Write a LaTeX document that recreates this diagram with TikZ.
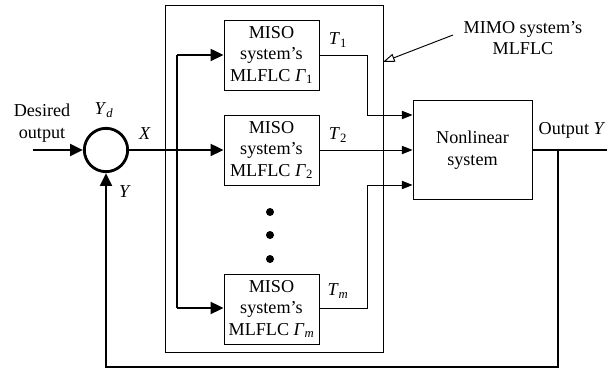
\documentclass[tikz,border=0pt]{standalone}
\usepackage{fontspec}
\setmainfont{Liberation Serif}
\usetikzlibrary{arrows.meta}
\tikzset{
    thinline/.style={line width=0.8pt},
    thickline/.style={line width=2.4pt},
    thinarrow/.style={thinline, -{Triangle[length=9pt, width=7pt]}},
    thickarrow/.style={thickline, -{Triangle[length=11pt, width=10pt]}},
    misobox/.style={draw, thinline, minimum width=2.85cm, minimum height=2.1cm,
        align=center, inner sep=0pt},
    lbl/.style={inner sep=0pt, align=center}
}
\begin{document}
\begin{tikzpicture}[x=0.03cm, y=-0.03cm, font=\fontsize{15.5}{18.5}\selectfont]
            \useasboundingbox (0, 0) rectangle (615, 376);
            \draw[thinline]
                (165, 5) rectangle (383, 352);
            \node[draw, circle, thickline, minimum size=1.3cm, inner sep=0pt] (sum) at (106, 150) {};
            \node[misobox] (miso1) at (271.5, 55) {MISO\\system's\\MLFLC \textit{Γ}\textsubscript{1}};
            \node[misobox] (miso2) at (271.5, 150) {MISO\\system's\\MLFLC \textit{Γ}\textsubscript{2}};
            \node[misobox] (misom) at (271.5, 309) {MISO\\system's\\MLFLC \textit{Γ}\textsubscript{\textit{m}}};
            \node[draw, thinline, minimum width=3.57cm, minimum height=2.97cm, align=center] (plant)
                at (472.5, 150) {Nonlinear\\system};
            \fill (270, 212) circle (4) (270, 235) circle (4) (270, 259) circle (4);
            % input side
            \coordinate (start) at (33, 150);
            \coordinate (split) at (177, 150);
            \coordinate (bustop) at (177, 55);
            \coordinate (busbot) at (177, 308);
            \draw[thickarrow] (start) -- (sum.west);
            \draw[thickarrow] (sum.east) -- (miso2.west);
            \draw[thickline] (bustop) -- (busbot);
            \draw[thickarrow] (bustop) -- (miso1.west);
            \draw[thickarrow] (busbot) -- (misom.west |- busbot);
            % controller outputs
            \draw[thinarrow] (miso1.east) -| (367, 115) -- (plant.west |- 0, 115);
            \draw[thinarrow] (miso2.east) -- (plant.west);
            \draw[thinarrow] (misom.east |- busbot) -| (367, 185) -- (plant.west |- 0, 185);
            % output and feedback
            \coordinate (outend) at (607, 150);
            \coordinate (branch) at (558, 150);
            \draw[thickline] (plant.east) -- (outend);
            \draw[thickarrow] (branch) -- (558, 367) -- (106, 367) -- (sum.south);
            % annotation
            \coordinate (tag) at (453, 35);
            \coordinate (edge) at (383, 62);
            \draw[thinline, -{Triangle[open, length=10pt, width=7pt]}] (tag) -- (edge);
            \node[lbl] (desired) at (42, 123) {Desired\\output};
            \node[lbl] (yd) at (104, 110) {\textit{Y}\textsubscript{\textit{d}}};
            \node[lbl] (x) at (145, 134) {\textit{X}};
            \node[lbl] (y) at (125, 192) {\textit{Y}};
            \node[lbl] (t1) at (338, 40) {\textit{T}\textsubscript{1}};
            \node[lbl] (t2) at (338, 135) {\textit{T}\textsubscript{2}};
            \node[lbl] (tm) at (338, 291) {\textit{T}\textsubscript{\textit{m}}};
            \node[lbl] (output) at (572, 130) {Output \textit{Y}};
            \node[lbl] (mimo) at (523, 38) {MIMO system's\\MLFLC};
        \end{tikzpicture}
\end{document}
